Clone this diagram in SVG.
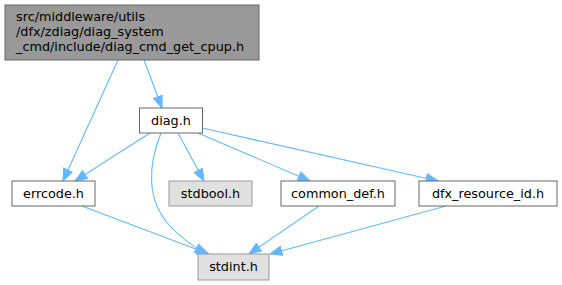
<svg xmlns="http://www.w3.org/2000/svg" width="562" height="285" viewBox="0 0 562 285">
<style>
  .bg { fill: #ffffff; }
  .n rect { stroke-width: 1; }
  .white rect { fill: #ffffff; stroke: #666666; }
  .grey rect { fill: #e0e0e0; stroke: #999999; }
  .main rect { fill: #999999; stroke: #666666; }
  text { font-family: "DejaVu Sans", sans-serif; font-size: 12.8px; fill: #000000; }
  .c { text-anchor: middle; }
  .e path { fill: none; stroke: #63b8ff; stroke-width: 1.1; marker-end: url(#arr); }
</style>
<defs>
  <marker id="arr" markerUnits="userSpaceOnUse" markerWidth="14" markerHeight="12" refX="12.5" refY="5.5" orient="auto">
    <path d="M0.5,0.8 L12.5,5.5 L0.5,10.2 z" fill="#63b8ff" stroke="#63b8ff" stroke-width="1"/>
  </marker>
</defs>
<rect class="bg" x="0" y="0" width="562" height="285"/>
<g id="edges" class="e">
  <path d="M118,60 L63,181"/>
  <path d="M144,60 L162,108"/>
  <path d="M150,133 L75,181"/>
  <path d="M161,133 C148,165 146,200 170,226 C182,239 194,247 207,254"/>
  <path d="M178,133 L204,181"/>
  <path d="M198,133 L310,181"/>
  <path d="M202,128 L438,181"/>
  <path d="M82,206 L209,254"/>
  <path d="M319,206 L249,254"/>
  <path d="M446,206 L270,254"/>
</g>
<g id="node_main" class="n main">
  <rect x="5" y="5" width="254" height="55"/>
  <text x="16" y="20.5">src/middleware/utils</text>
  <text x="16" y="35.5">/dfx/zdiag/diag_system</text>
  <text x="16" y="50.5">_cmd/include/diag_cmd_get_cpup.h</text>
</g>
<g id="node_diag" class="n white">
  <rect x="139.5" y="108" width="63" height="25"/>
  <text class="c" x="171" y="124.5">diag.h</text>
</g>
<g id="node_errcode" class="n white">
  <rect x="12" y="181" width="83" height="25"/>
  <text class="c" x="53.5" y="197.5">errcode.h</text>
</g>
<g id="node_stdbool" class="n grey">
  <rect x="169" y="181" width="83" height="25"/>
  <text class="c" x="210.5" y="197.5">stdbool.h</text>
</g>
<g id="node_common_def" class="n white">
  <rect x="281" y="181" width="114" height="25"/>
  <text class="c" x="338" y="197.5">common_def.h</text>
</g>
<g id="node_dfx_resource_id" class="n white">
  <rect x="419" y="181" width="138" height="25"/>
  <text class="c" x="488" y="197.5">dfx_resource_id.h</text>
</g>
<g id="node_stdint" class="n grey">
  <rect x="198" y="254" width="71" height="26"/>
  <text class="c" x="233.5" y="271">stdint.h</text>
</g>
</svg>
